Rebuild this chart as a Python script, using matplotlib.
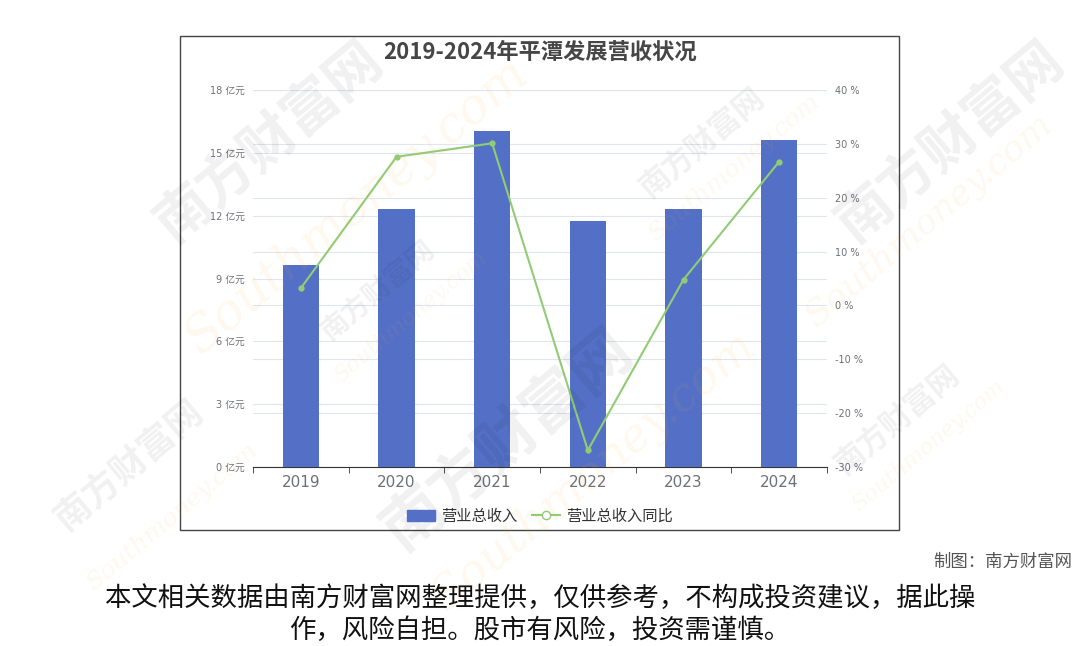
import numpy as np
import matplotlib
matplotlib.use("Agg")
import matplotlib.pyplot as plt
from matplotlib.patches import Rectangle
from matplotlib.lines import Line2D

plt.rcParams['font.family'] = ['Noto Sans CJK SC', 'DejaVu Sans']

years = ['2019', '2020', '2021', '2022', '2023', '2024']
revenue = [9.65, 12.32, 16.05, 11.75, 12.32, 15.62]      # 亿元
growth = [3.2, 27.6, 30.1, -26.9, 4.8, 26.7]             # %

left_ticks = [0, 3, 6, 9, 12, 15, 18]
right_ticks = [-30, -20, -10, 0, 10, 20, 30, 40]

bar_color = '#5470c6'
line_color = '#91cc75'
grid_color = '#e0e6f1'
text_gray = '#6e7079'
num_font = ['DejaVu Sans', 'Noto Sans CJK SC']

fig = plt.figure(figsize=(10.8, 6.46), dpi=100)

# outer frame
fig.patches.append(Rectangle((180 / 1080, 1 - 530 / 646), 719 / 1080, 494 / 646,
                             transform=fig.transFigure, fill=False,
                             edgecolor='#444444', linewidth=1.0))

# faint watermarks
for (wx, wy, s, r) in [(0.25, 0.78, 40, 40), (0.47, 0.32, 44, 40), (0.88, 0.78, 40, 40),
                       (0.12, 0.28, 26, 40), (0.65, 0.78, 22, 40), (0.83, 0.35, 22, 40),
                       (0.35, 0.55, 20, 40)]:
    fig.text(wx, wy, '南方财富网', fontsize=s, color='#000000', alpha=0.06,
             rotation=r, ha='center', va='center', fontweight='bold')
for (wx, wy, s, r) in [(0.33, 0.68, 36, 40), (0.55, 0.27, 34, 40), (0.86, 0.66, 26, 40),
                       (0.16, 0.2, 18, 40), (0.68, 0.74, 18, 40), (0.86, 0.31, 16, 40),
                       (0.38, 0.51, 16, 40)]:
    fig.text(wx, wy, 'Southmoney.com', fontsize=s, color='#f5a623', alpha=0.08,
             rotation=r, ha='center', va='center', style='italic', family='DejaVu Serif')

ax = fig.add_axes([253 / 1080, 1 - 467 / 646, 574 / 1080, 377 / 646])
x = np.arange(len(years))
ax.bar(x, revenue, width=0.38, color=bar_color, zorder=3)
ax.set_xlim(-0.5, len(years) - 0.5)
ax.set_ylim(0, 18)
ax.set_yticks(left_ticks)
ax.set_yticklabels([f'{t} 亿元' for t in left_ticks], fontsize=7, color=text_gray,
                   family=num_font)
ax.yaxis.grid(True, color=grid_color, linewidth=0.8, zorder=0)
ax.set_axisbelow(True)
# right-axis grid lines, drawn behind the bars
for t in right_ticks:
    ax.axhline((t + 30) / 70 * 18, color=grid_color, linewidth=0.8, zorder=0)
ax.set_xticks(x)
ax.set_xticklabels(years, fontsize=11, color=text_gray, family=num_font)
ax.set_xticks(np.arange(len(years) + 1) - 0.5, minor=True)
ax.tick_params(axis='x', which='major', length=0, pad=6)
ax.tick_params(axis='x', which='minor', length=4, color='#333333')
ax.tick_params(axis='y', length=0, pad=6)
for s in ['top', 'right', 'left']:
    ax.spines[s].set_visible(False)
ax.spines['bottom'].set_color('#333333')

ax2 = ax.twinx()
ax2.plot(x, growth, color=line_color, linewidth=1.5, marker='o', markersize=3.5,
         markerfacecolor=line_color, zorder=4)
ax2.set_ylim(-30, 40)
ax2.set_yticks(right_ticks)
ax2.set_yticklabels([f'{t} %' for t in right_ticks], fontsize=7, color=text_gray,
                    family=num_font)
ax2.tick_params(axis='y', length=0, pad=6)
for s in ['top', 'right', 'left', 'bottom']:
    ax2.spines[s].set_visible(False)

fig.text(540 / 1080, 1 - 52 / 646, '2019-2024年平潭发展营收状况', fontsize=16,
         fontweight='bold', color='#464646', ha='center', va='center')

handles = [Rectangle((0, 0), 1, 1, color=bar_color),
           Line2D([0], [0], color=line_color, marker='o', markersize=6,
                  markerfacecolor='white', linewidth=1.5)]
fig.legend(handles, ['营业总收入', '营业总收入同比'], loc='center',
           bbox_to_anchor=(540 / 1080, 1 - 516 / 646), ncol=2, frameon=False,
           fontsize=11, labelcolor='#333333', handlelength=1.8, columnspacing=1.0,
           handletextpad=0.4)

fig.text(1072 / 1080, 1 - 562 / 646, '制图：南方财富网', fontsize=12.5, color='#555555',
         ha='right', va='center')
fig.text(540 / 1080, 1 - 598 / 646, '本文相关数据由南方财富网整理提供，仅供参考，不构成投资建议，据此操',
         fontsize=19, color='#111111', ha='center', va='center')
fig.text(540 / 1080, 1 - 630 / 646, '作，风险自担。股市有风险，投资需谨慎。',
         fontsize=19, color='#111111', ha='center', va='center')

fig.savefig('out.png', dpi=100)
